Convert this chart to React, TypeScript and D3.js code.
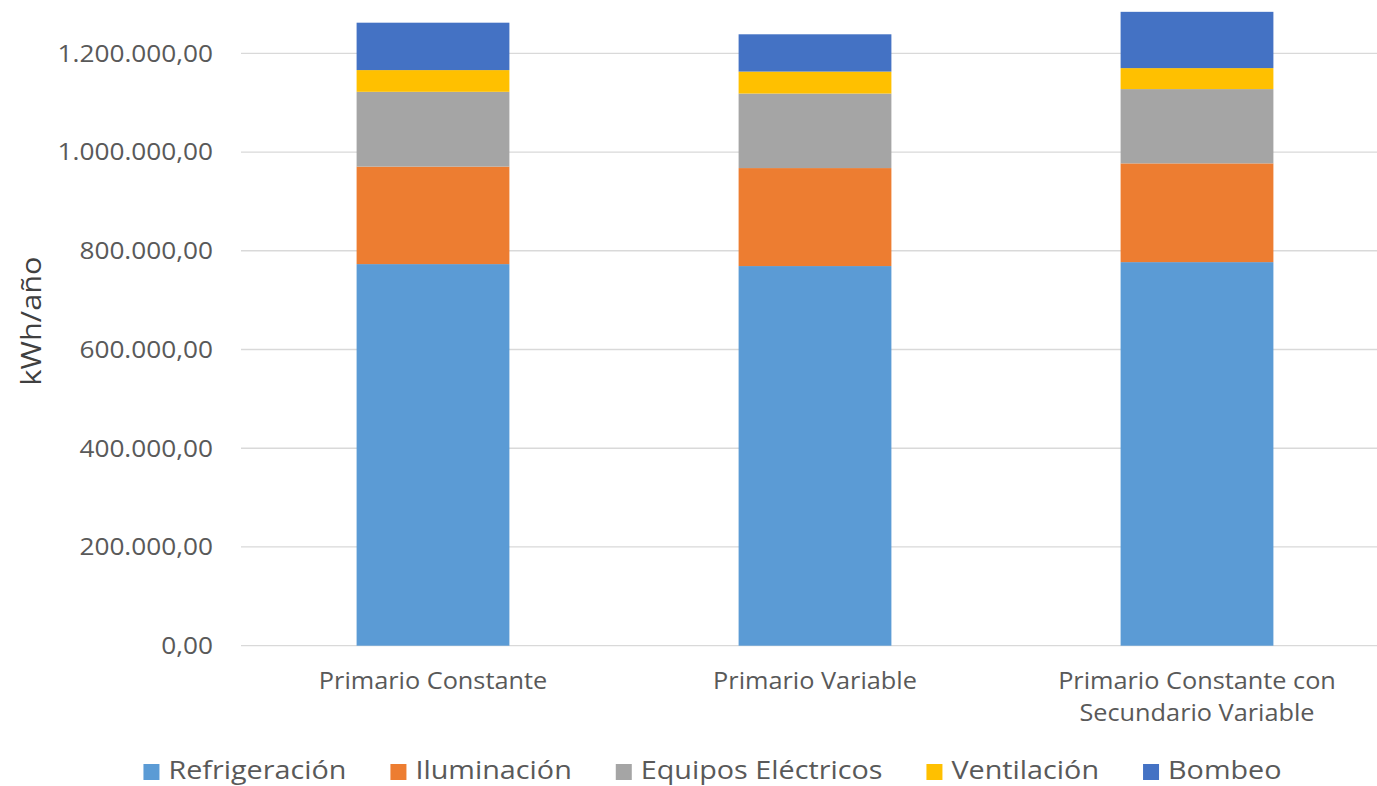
import React, { useEffect, useRef } from "react";
import * as d3 from "d3";

// Annual energy consumption by end use for three pumping schemes (kWh/año)
const categories: string[][] = [
  ["Primario Constante"],
  ["Primario Variable"],
  ["Primario Constante con", "Secundario Variable"],
];
const seriesNames = ["Refrigeración", "Iluminación", "Equipos Eléctricos", "Ventilación", "Bombeo"];
const refrigeracion = [773000, 769000, 777000];
const iluminacion = [197500, 198500, 200000];
const equiposElectricos = [151500, 151000, 150500];
const ventilacion = [44000, 44500, 42500];
const bombeo = [96000, 75500, 114000];
const yTicks = [0, 200000, 400000, 600000, 800000, 1000000, 1200000];
const colors = ["#5B9BD5", "#ED7D31", "#A5A5A5", "#FFC000", "#4472C4"];

const W = 1377;
const H = 786;
const FONT = "'Open Sans', 'DejaVu Sans', sans-serif";
const TEXT = "#595959";

const fmt = (v: number) => {
  const [int, dec] = v.toFixed(2).split(".");
  return int.replace(/\B(?=(\d{3})+(?!\d))/g, ".") + "," + dec;
};

export default function App() {
  const ref = useRef<SVGSVGElement | null>(null);

  useEffect(() => {
    const svg = d3.select(ref.current);
    svg.selectAll("*").remove();

    const x = d3
      .scaleBand<number>()
      .domain(d3.range(categories.length))
      .range([242, 1388])
      .paddingInner(0.6)
      .paddingOuter(0.3);
    const y = d3.scaleLinear().domain([0, 1200000]).range([645.7, 53.3]);

    const rows = categories.map((_, i) => ({
      i,
      "Refrigeración": refrigeracion[i],
      "Iluminación": iluminacion[i],
      "Equipos Eléctricos": equiposElectricos[i],
      "Ventilación": ventilacion[i],
      "Bombeo": bombeo[i],
    }));
    const stacked = d3.stack<any>().keys(seriesNames)(rows);

    // gridlines
    svg
      .append("g")
      .selectAll("line")
      .data(yTicks)
      .join("line")
      .attr("x1", 241)
      .attr("x2", W)
      .attr("y1", (d) => y(d))
      .attr("y2", (d) => y(d))
      .attr("stroke", "#D9D9D9")
      .attr("stroke-width", 1.3);

    // tick labels (slightly widened type)
    svg
      .append("g")
      .selectAll("text")
      .data(yTicks)
      .join("text")
      .attr("transform", (d) => `translate(213,${y(d)}) scale(1.14,1)`)
      .attr("dy", "0.36em")
      .attr("text-anchor", "end")
      .attr("font-family", FONT)
      .attr("font-size", 23)
      .attr("fill", TEXT)
      .text((d) => fmt(d));

    // stacked bars
    svg
      .append("g")
      .selectAll("g")
      .data(stacked)
      .join("g")
      .attr("fill", (_, k) => colors[k])
      .selectAll("rect")
      .data((s) => s)
      .join("rect")
      .attr("x", (d: any) => x(d.data.i)!)
      .attr("width", x.bandwidth())
      .attr("y", (d) => y(d[1]))
      .attr("height", (d) => y(d[0]) - y(d[1]));

    // category labels
    const cat = svg
      .append("g")
      .selectAll("text")
      .data(categories)
      .join("text")
      .attr("transform", (_, i) => `translate(${x(i)! + x.bandwidth() / 2},689) scale(1.1,1)`)
      .attr("text-anchor", "middle")
      .attr("font-family", FONT)
      .attr("font-size", 23)
      .attr("fill", TEXT);
    cat
      .selectAll("tspan")
      .data((d) => d)
      .join("tspan")
      .attr("x", 0)
      .attr("dy", (_, j) => (j === 0 ? 0 : 32))
      .text((d) => d);

    // axis title
    svg
      .append("text")
      .attr("transform", "translate(41,321) rotate(-90) scale(1.1,1)")
      .attr("text-anchor", "middle")
      .attr("font-family", FONT)
      .attr("font-size", 28)
      .attr("fill", "#404040")
      .text("kWh/año");

    // legend, laid out from measured text widths and centred
    const legend = svg.append("g");
    const sq = 16;
    const gapText = 9;
    const gapItem = 44;
    const sx = 1.15;
    let cursor = 0;
    seriesNames.forEach((name, k) => {
      const g = legend.append("g");
      g.append("rect")
        .attr("width", sq)
        .attr("height", sq)
        .attr("y", 772 - sq / 2)
        .attr("fill", colors[k]);
      const t = g
        .append("text")
        .attr("transform", `translate(${sq + gapText},779) scale(${sx},1)`)
        .attr("font-family", FONT)
        .attr("font-size", 25)
        .attr("fill", TEXT)
        .text(name);
      const w = (t.node() as SVGTextElement).getComputedTextLength() * sx;
      g.attr("transform", `translate(${cursor},0)`);
      cursor += sq + gapText + w + gapItem;
    });
    const total = cursor - gapItem;
    legend.attr("transform", `translate(${712.5 - total / 2},0)`);
  }, []);

  return (
    <svg
      ref={ref}
      width={W}
      height={H}
      style={{ position: "absolute", left: 0, top: 0, background: "#fff" }}
    />
  );
}
